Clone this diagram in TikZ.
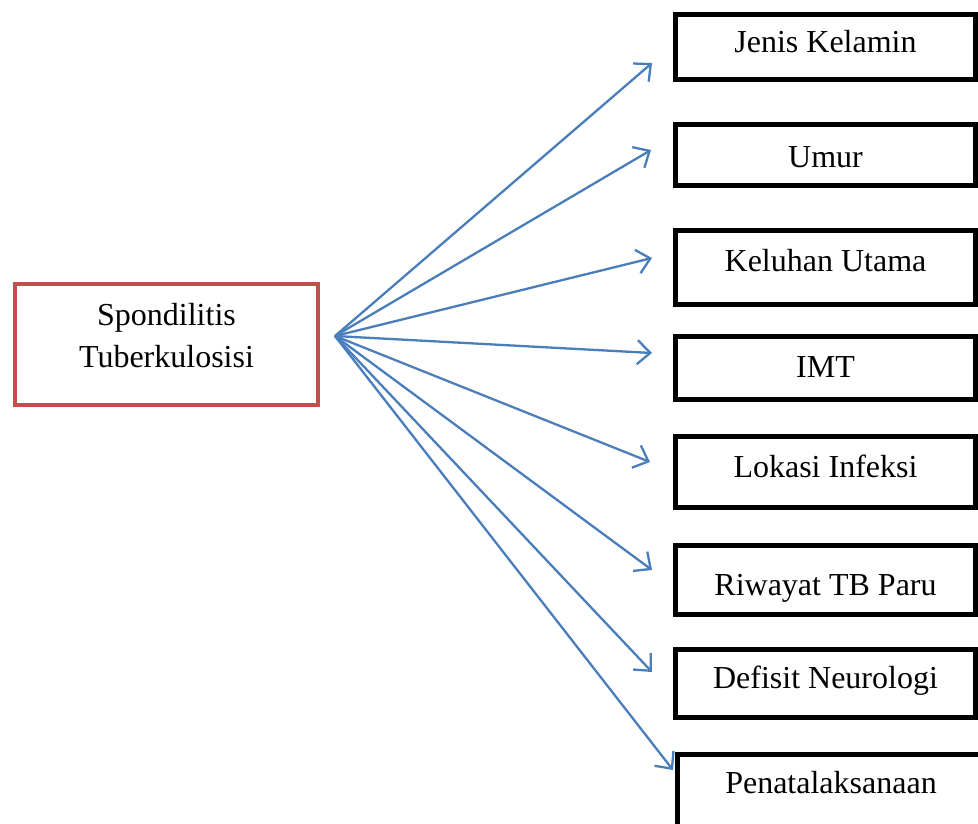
\documentclass[tikz,border=0pt]{standalone}
\usepackage{fontspec}
\setmainfont{Liberation Serif}
\usetikzlibrary{arrows.meta}
\definecolor{boxred}{HTML}{C0504D}
\definecolor{arrowblue}{HTML}{4A7EBB}
\begin{document}
\begin{tikzpicture}[x=1pt,y=-1pt,
  every node/.style={font=\fontsize{32}{42}\selectfont, inner sep=0pt, outer sep=0pt},
  srcbox/.style={draw=boxred, line width=4pt, minimum width=303pt, minimum height=121pt, align=center, text depth=19pt},
  itembox/.style={draw=black, line width=5pt, minimum width=300pt, text height=30pt},
  fanarrow/.style={draw=arrowblue, line width=2.3pt, -{Straight Barb[length=13pt,width=24pt,line width=2.3pt]}}
]
\useasboundingbox (0,0) rectangle (978,823);
\clip (0,0) rectangle (978,823);
\fill[white] (0,0) rectangle (978,823);

\node[srcbox] (src) at (166.5,344.5) {Spondilitis\\Tuberkulosisi};

\node[itembox, minimum height=65pt, text depth=20pt] (b1) at (825.5,47) {Jenis Kelamin};
\node[itembox, minimum height=61pt, text depth=6pt]  (b2) at (825.5,155) {Umur};
\node[itembox, minimum height=74pt, text depth=22pt] (b3) at (825.5,267.5) {Keluhan Utama};
\node[itembox, minimum height=63pt, text depth=12pt] (b4) at (825.5,368) {IMT};
\node[itembox, minimum height=71pt, text depth=20pt] (b5) at (825.5,472) {Lokasi Infeksi};
\node[itembox, minimum height=69pt, text depth=0pt]  (b6) at (825.5,580) {Riwayat TB Paru};
\node[itembox, minimum height=68pt, text depth=20pt] (b7) at (825.5,683.5) {Defisit Neurologi};
\node[itembox, minimum height=73pt, minimum width=315pt, text depth=26pt] (b8) at (835,791) {};
\node at (831,791) [text height=30pt, text depth=26pt] (b8t) {Penatalaksanaan};

\coordinate (fan) at (335,336);
\coordinate (t1) at (652,63);
\coordinate (t2) at (651,150);
\coordinate (t3) at (652,258);
\coordinate (t4) at (652,353);
\coordinate (t5) at (650,462);
\coordinate (t6) at (652,570);
\coordinate (t7) at (652,672);
\coordinate (t8) at (673,770);

\foreach \t in {t1,t2,t3,t4,t5,t6,t7,t8}
  \draw[fanarrow] (fan) -- (\t);
\end{tikzpicture}
\end{document}
